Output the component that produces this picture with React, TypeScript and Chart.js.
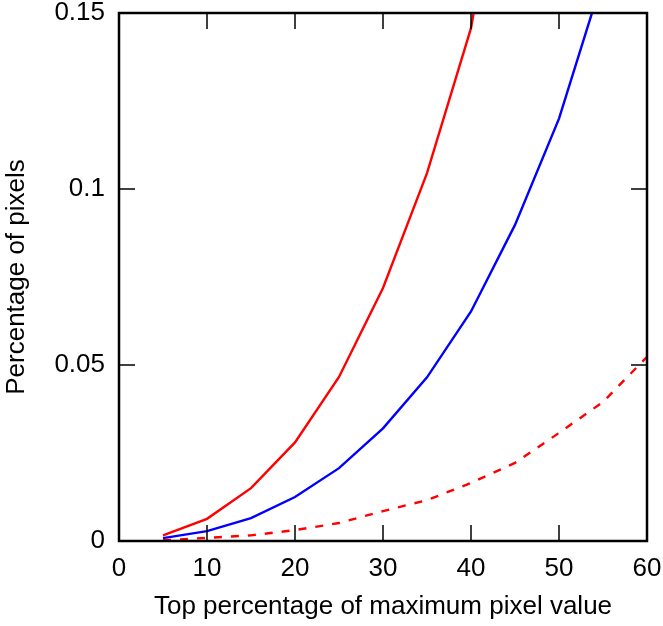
import React, { useEffect, useRef } from "react";
import { Chart, registerables } from "chart.js";
Chart.register(...registerables);

// Data
const xValues = [5, 10, 15, 20, 25, 30, 35, 40, 45, 50, 55, 60];
const redSolid = [0.0016, 0.0063, 0.015, 0.028, 0.0466, 0.0719, 0.1045, 0.1457, 0.217];
const blueSolid = [0.0008, 0.0028, 0.0065, 0.0125, 0.0207, 0.032, 0.0465, 0.0652, 0.0898, 0.12, 0.16];
const redDashed = [0.0002, 0.0009, 0.0016, 0.0031, 0.0051, 0.0085, 0.0116, 0.0165, 0.0222, 0.0307, 0.0395, 0.0523];
const xTicks = [0, 10, 20, 30, 40, 50, 60];
const xTickLabels = ["0", "10", "20", "30", "40", "50", "60"];
const yTicks = [0, 0.05, 0.1, 0.15];
const yTickLabels = ["0", "0.05", "0.1", "0.15"];
const xTitle = "Top percentage of maximum pixel value";
const yTitle = "Percentage of pixels";

const FONT = "'Liberation Sans', Arial, Helvetica, sans-serif";

function pts(ys: number[]) {
  return ys.map((y, i) => ({ x: xValues[i], y }));
}

export default function App() {
  const ref = useRef<HTMLCanvasElement>(null);
  useEffect(() => {
    document.body.style.margin = "0";
    const framePlugin = {
      id: "frame",
      afterDatasetsDraw(chart: any) {
        const { ctx, chartArea } = chart;
        const { left, right, top, bottom } = chartArea;
        const xs = chart.scales.x;
        const ys = chart.scales.y;
        const tl = 16;
        ctx.save();
        ctx.strokeStyle = "#000";
        ctx.lineWidth = 1.5;
        ctx.beginPath();
        xTicks.forEach((v) => {
          if (v === xs.min || v === xs.max) return;
          const px = xs.getPixelForValue(v);
          ctx.moveTo(px, bottom);
          ctx.lineTo(px, bottom - tl);
          ctx.moveTo(px, top);
          ctx.lineTo(px, top + tl);
        });
        yTicks.forEach((v) => {
          if (v === ys.min || v === ys.max) return;
          const py = ys.getPixelForValue(v);
          ctx.moveTo(left, py);
          ctx.lineTo(left + tl, py);
          ctx.moveTo(right, py);
          ctx.lineTo(right - tl, py);
        });
        ctx.stroke();
        ctx.lineWidth = 2.5;
        ctx.strokeRect(left, top, right - left, bottom - top);
        ctx.restore();
      },
    };
    const chart = new Chart(ref.current!, {
      type: "line",
      data: {
        datasets: [
          {
            data: pts(redDashed),
            borderColor: "#ff0000",
            borderWidth: 2.4,
            borderDash: [8, 9],
            pointRadius: 0,
            tension: 0,
            fill: false,
          },
          {
            data: pts(blueSolid),
            borderColor: "#0000ff",
            borderWidth: 2.4,
            pointRadius: 0,
            tension: 0,
            fill: false,
          },
          {
            data: pts(redSolid),
            borderColor: "#ff0000",
            borderWidth: 2.4,
            pointRadius: 0,
            tension: 0,
            fill: false,
          },
        ],
      },
      options: {
        responsive: false,
        animation: false,
        devicePixelRatio: 1,
        layout: { padding: { top: 13, right: 16, left: 0, bottom: 0 } },
        plugins: { legend: { display: false }, tooltip: { enabled: false } },
        scales: {
          x: {
            type: "linear",
            min: 0,
            max: 60,
            afterBuildTicks: (s: any) => {
              s.ticks = xTicks.map((v) => ({ value: v }));
            },
            afterFit: (s: any) => {
              s.height = 85;
              s.paddingLeft = 0;
              s.paddingRight = 0;
            },
            grid: { display: false, drawTicks: false, tickLength: 0 },
            border: { display: false },
            ticks: {
              autoSkip: false,
              maxRotation: 0,
              padding: 12,
              color: "#000",
              font: { family: FONT, size: 26 },
              callback: (v: any) => xTickLabels[xTicks.indexOf(Number(v))] ?? "",
            },
            title: {
              display: true,
              text: xTitle,
              color: "#000",
              font: { family: FONT, size: 26 },
              padding: { top: 0, bottom: 4 },
            },
          },
          y: {
            type: "linear",
            min: 0,
            max: 0.15,
            afterBuildTicks: (s: any) => {
              s.ticks = yTicks.map((v) => ({ value: v }));
            },
            afterFit: (s: any) => {
              s.width = 119;
              s.paddingTop = 0;
              s.paddingBottom = 0;
            },
            grid: { display: false, drawTicks: false, tickLength: 0 },
            border: { display: false },
            ticks: {
              autoSkip: false,
              padding: 14,
              color: "#000",
              font: { family: FONT, size: 26 },
              callback: (v: any) => {
                const i = yTicks.findIndex((t) => Math.abs(t - Number(v)) < 1e-9);
                return i >= 0 ? yTickLabels[i] : "";
              },
            },
            title: {
              display: true,
              text: yTitle,
              color: "#000",
              font: { family: FONT, size: 26 },
              padding: { top: 1, bottom: 0 },
            },
          },
        },
      },
      plugins: [framePlugin],
    });
    return () => chart.destroy();
  }, []);
  return (
    <div style={{ position: "absolute", left: 0, top: 0, width: 663, height: 626, background: "#fff" }}>
      <canvas ref={ref} width={663} height={626} style={{ display: "block" }} />
    </div>
  );
}
